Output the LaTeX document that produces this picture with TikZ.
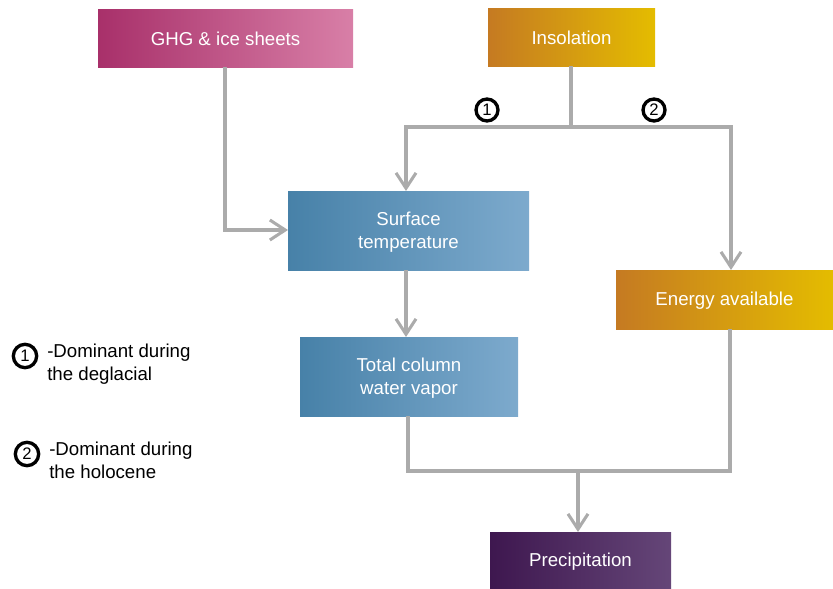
\documentclass[tikz,border=0pt]{standalone}
\usepackage{fontspec}
\setmainfont{Liberation Sans}
\usetikzlibrary{arrows.meta,calc}
\definecolor{ghgL}{HTML}{A8306A}
\definecolor{ghgR}{HTML}{D87FA7}
\definecolor{insL}{HTML}{C57A22}
\definecolor{insR}{HTML}{E4BC00}
\definecolor{bluL}{HTML}{4781A8}
\definecolor{bluR}{HTML}{7DAACD}
\definecolor{purL}{HTML}{3E174F}
\definecolor{purR}{HTML}{654678}
\definecolor{conn}{HTML}{ABABAB}
\begin{document}
\begin{tikzpicture}[x=0.75pt,y=-0.75pt,
  box/.style={draw=none, text=white, font=\fontsize{14}{17.3}\selectfont, align=center, inner sep=0pt},
  link/.style={draw=conn, line width=2.3pt},
  arr/.style={link, -{Straight Barb[length=11.5pt,width=15pt,line width=2.3pt]}},
  num/.style={circle, draw=black, line width=2.5pt, inner sep=0pt, minimum size=16.5pt, font=\fontsize{12.5}{14}\selectfont},
  legend/.style={anchor=north west, align=left, font=\fontsize{14}{17.3}\selectfont, inner sep=0pt}]
\useasboundingbox (0,0) rectangle (833,589);
% boxes
\path[left color=ghgL,right color=ghgR] (98,9) rectangle (353,67);
\node[box] (ghg) at (225.5,39) {GHG \& ice sheets};
\path[left color=insL,right color=insR] (488,8) rectangle (655,66);
\node[box] (ins) at (571.5,38) {Insolation};
\path[left color=bluL,right color=bluR] (288,191) rectangle (529,270);
\node[box] (st) at (408.5,232) {Surface\\temperature};
\path[left color=bluL,right color=bluR] (300,337) rectangle (518,416);
\node[box] (tc) at (409,378) {Total column\\water vapor};
\path[left color=insL,right color=insR] (616,270) rectangle (833,329);
\node[box] (en) at (724.5,300.5) {Energy available};
\path[left color=purL,right color=purR] (490,532) rectangle (671,589);
\node[box] (pr) at (580.5,561.5) {Precipitation};
% coordinates
\coordinate (ghgB) at (225,67);
\coordinate (ghgC) at (225,230);
\coordinate (stL) at (288,230);
\coordinate (insB) at (571,66);
\coordinate (j1) at (571,127);
\coordinate (lft) at (406,127);
\coordinate (rgt) at (731,127);
\coordinate (stT) at (406,191);
\coordinate (enT) at (731,270);
\coordinate (stB) at (406,270);
\coordinate (tcT) at (406,337);
\coordinate (tcB) at (408,416);
\coordinate (bl) at (408,471);
\coordinate (br) at (730,471);
\coordinate (enB) at (730,329);
\coordinate (j2) at (578,471);
\coordinate (prT) at (578,532);
% connectors
\draw[arr] (ghgB) -- (ghgC) -- (stL);
\draw[link] (insB) -- (j1);
\draw[arr] (j1) -- (lft) -- (stT);
\draw[arr] (j1) -- (rgt) -- (enT);
\draw[arr] (stB) -- (tcT);
\draw[link] (tcB) -- (bl) -- (br) -- (enB);
\draw[arr] (j2) -- (prT);
% numbers
\node[num] (n1) at (487,110) {1};
\node[num] (n2) at (654,110) {2};
% legend
\node[num, minimum size=17.5pt] (l1) at (25,356) {1};
\node[legend] (t1) at (47,344) {-Dominant during\\the deglacial};
\node[num, minimum size=17.5pt] (l2) at (27,454) {2};
\node[legend] (t2) at (49,442) {-Dominant during\\the holocene};
\end{tikzpicture}
\end{document}
